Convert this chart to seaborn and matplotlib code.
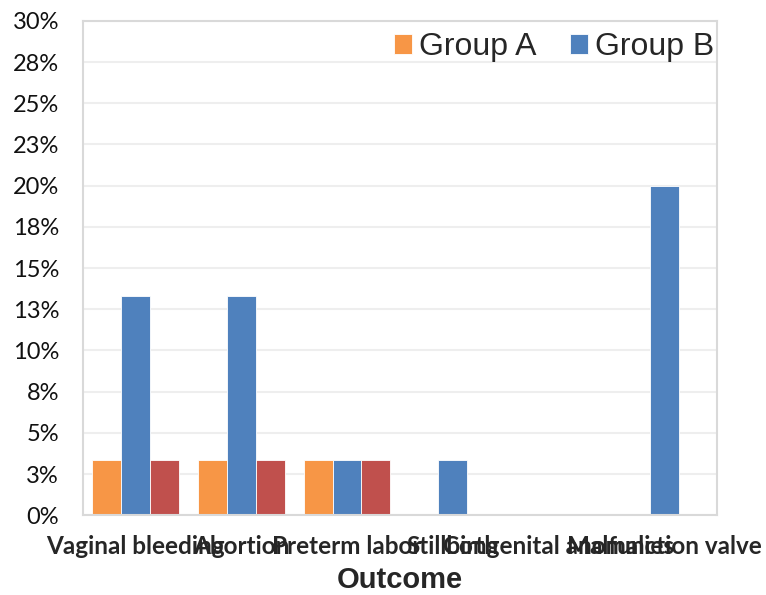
import pandas as pd
import seaborn as sns
import matplotlib.pyplot as plt

# Outcome rates per group (fraction of patients)
outcomes = ['Vaginal bleeding', 'Abortion', 'Preterm labor', 'Stillbirth',
            'Congenital anomalies', 'Malfunction valve']
group_a = [0.0333, 0.0333, 0.0333, 0.0, 0.0, 0.0]
group_b = [0.1333, 0.1333, 0.0333, 0.0333, 0.0, 0.20]
group_c = [0.0333, 0.0333, 0.0333, 0.0, 0.0, 0.0]
groups = ['Group A', 'Group B', 'Group C']
colors = ['#F79646', '#4F81BD', '#C0504D']

y_ticks = [0, 0.025, 0.05, 0.075, 0.10, 0.125, 0.15, 0.175, 0.20, 0.225, 0.25, 0.275, 0.30]
y_tick_labels = ['0%', '3%', '5%', '8%', '10%', '13%', '15%', '18%', '20%', '23%', '25%', '28%', '30%']

df = pd.DataFrame({
    'Outcome': outcomes * 3,
    'Rate': group_a + group_b + group_c,
    'Group': [g for g in groups for _ in outcomes],
})

sns.set_style('white')

fig = plt.figure(figsize=(7.66, 5.95), dpi=100)
ax = fig.add_axes([0.108, 0.134, 0.828, 0.831])

sns.barplot(data=df, x='Outcome', y='Rate', hue='Group', palette=colors,
            width=0.82, saturation=1, edgecolor='white', linewidth=0.6, ax=ax)

ax.set_ylim(0, 0.30)
ax.set_yticks(y_ticks)
ax.set_yticklabels(y_tick_labels, fontsize=17, family=['Lato', 'DejaVu Sans'], color='#111111')
ax.set_xticks(range(len(outcomes)))
ax.set_xticklabels(outcomes, fontsize=17.5, fontweight='bold',
                   family=['Lato', 'DejaVu Sans'])
ax.tick_params(axis='x', length=0, pad=14)
ax.tick_params(axis='y', length=0, pad=17)

ax.grid(axis='y', color='#EEEEEE', linewidth=1.5)
ax.set_axisbelow(True)
for side in ax.spines.values():
    side.set_color('#D9D9D9')
    side.set_linewidth(1.5)

ax.set_ylabel('')
ax.set_xlabel('Outcome', fontsize=21, fontweight='bold',
              family=['Liberation Sans', 'DejaVu Sans'], labelpad=6)

handles, labels = ax.get_legend_handles_labels()
ax.legend(handles[:2], labels[:2], loc='upper right', bbox_to_anchor=(1.006, 0.99),
          ncol=2, frameon=False,
          prop={'family': 'Liberation Sans', 'size': 23},
          handlelength=0.56, handleheight=0.56, handletextpad=0.22,
          columnspacing=1.06, borderaxespad=0.0, borderpad=0.2)

fig.savefig('out.png', dpi=100)
